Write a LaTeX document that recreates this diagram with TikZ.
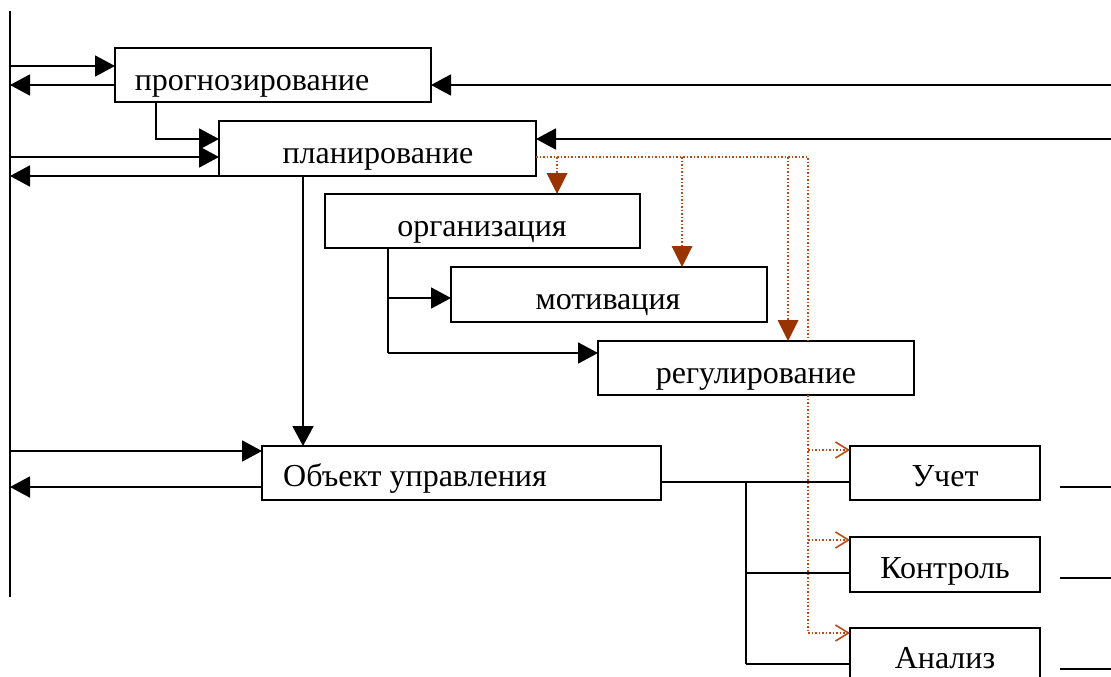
\documentclass[tikz,border=0pt]{standalone}
\usepackage{fontspec}
\setmainfont{Liberation Serif}
\usetikzlibrary{arrows.meta}
\definecolor{brownarr}{RGB}{153,51,0}
\definecolor{dotcol}{RGB}{185,75,25}
\begin{document}
\begin{tikzpicture}[x=1pt,y=-1pt,
  box/.style={draw, line width=1.9pt, fill=white, inner sep=0pt, outer sep=0pt},
  lbl/.style={anchor=base, inner sep=0pt, font=\fontsize{32}{37}\selectfont},
  ln/.style={line width=1.9pt},
  arr/.style={ln, -{Triangle[length=20pt,width=21pt]}},
  dot/.style={dotcol, dotted, line width=1.5pt},
  darr/.style={dot, -{Triangle[length=21pt,width=21pt,fill=brownarr,color=brownarr,line width=0pt]}},
  oarr/.style={dot, -{Straight Barb[length=13pt,width=16pt,line width=1.6pt,color=dotcol]}}
]
\useasboundingbox (0,0) rectangle (1111,677);

% boxes
\node[box, minimum width=316pt, minimum height=54pt] (prog) at (273,75) {};
\node[box, minimum width=317pt, minimum height=55pt] (plan) at (377.5,148.5) {};
\node[box, minimum width=315pt, minimum height=54pt] (org) at (482.5,221) {};
\node[box, minimum width=316pt, minimum height=55pt] (mot) at (609,294.5) {};
\node[box, minimum width=316pt, minimum height=54pt] (reg) at (756,368) {};
\node[box, minimum width=399pt, minimum height=54pt] (obj) at (461.5,473) {};
\node[box, minimum width=190pt, minimum height=54pt] (uch) at (945,473) {};
\node[box, minimum width=190pt, minimum height=55pt] (kon) at (945,564.5) {};
\node[box, minimum width=190pt, minimum height=54pt] (ana) at (945,655) {};

% texts
\node[lbl] (tprog) at (252,91) {прогнозирование};
\node[lbl] (tplan) at (378,163) {планирование};
\node[lbl] (torg) at (482,236) {организация};
\node[lbl] (tmot) at (608,309) {мотивация};
\node[lbl] (treg) at (756,383) {регулирование};
\node[lbl] (tobj) at (415,486) {Объект управления};
\node[lbl] (tuch) at (945,486) {Учет};
\node[lbl] (tkon) at (945,578) {Контроль};
\node[lbl] (tana) at (945,668) {Анализ};

% left vertical line
\coordinate (Ltop) at (10,11);
\coordinate (Lbot) at (10,597);
\draw[ln] (Ltop) -- (Lbot);

% left feedback arrows
\coordinate (l1) at (10,66);
\coordinate (l2) at (10,85);
\coordinate (l3) at (10,157);
\coordinate (l4) at (10,176);
\coordinate (l5) at (10,451);
\coordinate (l6) at (10,487);
\draw[arr] (l1) -- (l1 -| prog.west);
\draw[arr] (l2 -| prog.west) -- (l2);
\draw[arr] (l3) -- (l3 -| plan.west);
\draw[arr] (l4 -| plan.west) -- (l4);
\draw[arr] (l5) -- (l5 -| obj.west);
\draw[arr] (l6 -| obj.west) -- (l6);

% prog -> plan
\coordinate (c1) at (156,139);
\draw[arr] (c1 |- prog.south) -- (c1) -- (c1 -| plan.west);

% right inputs
\coordinate (r1) at (1111,85);
\coordinate (r2) at (1111,139);
\draw[arr] (r1) -- (r1 -| prog.east);
\draw[arr] (r2) -- (r2 -| plan.east);

% plan -> obj
\coordinate (v1) at (303,300);
\draw[arr] (v1 |- plan.south) -- (v1 |- obj.north);

% org -> mot, reg
\coordinate (c3) at (388,298);
\coordinate (c4) at (388,353);
\draw[ln] (c3 |- org.south) -- (c4);
\draw[arr] (c3) -- (c3 -| mot.west);
\draw[arr] (c4) -- (c4 -| reg.west);

% obj -> uch, kon, ana
\coordinate (b1) at (746,482);
\coordinate (b2) at (746,573);
\coordinate (b3) at (746,664);
\draw[ln] (b1 -| obj.east) -- (b1 -| uch.west);
\draw[ln] (b1) -- (b3);
\draw[ln] (b2) -- (b2 -| kon.west);
\draw[ln] (b3) -- (b3 -| ana.west);

% right stubs
\coordinate (s1a) at (1060,487); \coordinate (s1b) at (1111,487);
\coordinate (s2a) at (1060,578); \coordinate (s2b) at (1111,578);
\coordinate (s3a) at (1060,669); \coordinate (s3b) at (1111,669);
\draw[ln] (s1a) -- (s1b);
\draw[ln] (s2a) -- (s2b);
\draw[ln] (s3a) -- (s3b);

% dotted control lines
\coordinate (d0) at (536,157);
\coordinate (d1) at (557,157);
\coordinate (d2) at (682,157);
\coordinate (d3) at (788,157);
\coordinate (d4) at (808,157);
\coordinate (e1) at (808,450);
\coordinate (e2) at (808,540);
\coordinate (e3) at (808,633);
\draw[dot] (d0) -- (d4) -- (d4 |- reg.north);
\draw[dot] (d4 |- reg.south) -- (e3);
\draw[darr] (d1) -- (d1 |- org.north);
\draw[darr] (d2) -- (d2 |- mot.north);
\draw[darr] (d3) -- (d3 |- reg.north);
\draw[oarr] (e1) -- (e1 -| uch.west);
\draw[oarr] (e2) -- (e2 -| kon.west);
\draw[oarr] (e3) -- (e3 -| ana.west);
\end{tikzpicture}
\end{document}
